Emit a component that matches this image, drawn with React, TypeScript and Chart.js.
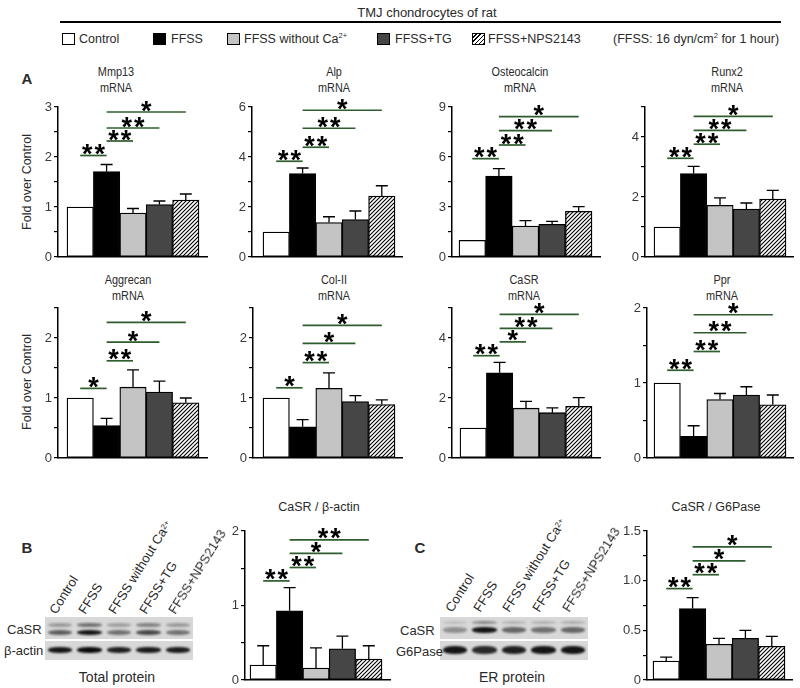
import React, { useEffect, useRef } from 'react';
import { Chart, registerables } from 'chart.js';
Chart.register(...registerables);

const FONT = '"Liberation Sans", Arial, Helvetica, sans-serif';

// ---------- data ----------
const groups = ['Control', 'FFSS', 'FFSS without Ca2+', 'FFSS+TG', 'FFSS+NPS2143'];
const barColors = ['#ffffff', '#000000', '#c4c4c4', '#464646', 'hatch'];

type Sig = [number, number, number, string];

const mmp13Mean = [1.0, 1.71, 0.88, 1.05, 1.14];
const mmp13Sem = [0, 0.14, 0.09, 0.07, 0.12];
const mmp13Sig: Sig[] = [[0, 1, 2.03, '**'], [1, 2, 2.32, '**'], [1, 3, 2.58, '**'], [1, 4, 2.9, '*']];
const mmp13Ticks = ['0', '1', '2', '3'];

const alpMean = [1.0, 3.34, 1.38, 1.5, 2.44];
const alpSem = [0, 0.22, 0.23, 0.34, 0.41];
const alpSig: Sig[] = [[0, 1, 3.83, '**'], [1, 2, 4.39, '**'], [1, 3, 5.15, '**'], [1, 4, 5.87, '*']];
const alpTicks = ['0', '2', '4', '6'];

const osteoMean = [1.0, 4.86, 1.86, 1.96, 2.74];
const osteoSem = [0, 0.44, 0.32, 0.18, 0.28];
const osteoSig: Sig[] = [[0, 1, 5.9, '**'], [1, 2, 6.72, '**'], [1, 3, 7.58, '**'], [1, 4, 8.42, '*']];
const osteoTicks = ['0', '3', '6', '9'];

const runx2Mean = [1.0, 2.78, 1.72, 1.6, 1.93];
const runx2Sem = [0, 0.24, 0.25, 0.2, 0.29];
const runx2Sig: Sig[] = [[0, 1, 3.29, '**'], [1, 2, 3.76, '**'], [1, 3, 4.22, '**'], [1, 4, 4.69, '*']];
const runx2Ticks = ['0', '2', '4'];

const aggMean = [1.0, 0.54, 1.18, 1.1, 0.92];
const aggSem = [0, 0.12, 0.29, 0.18, 0.08];
const aggSig: Sig[] = [[0, 1, 1.16, '*'], [1, 2, 1.62, '**'], [1, 3, 1.93, '*'], [1, 4, 2.26, '*']];
const aggTicks = ['0', '1', '2'];

const col2Mean = [1.0, 0.52, 1.16, 0.94, 0.89];
const col2Sem = [0, 0.12, 0.26, 0.1, 0.08];
const col2Sig: Sig[] = [[0, 1, 1.17, '*'], [1, 2, 1.59, '**'], [1, 3, 1.91, '*'], [1, 4, 2.21, '*']];
const col2Ticks = ['0', '1', '2'];

const casrMean = [1.0, 2.84, 1.66, 1.51, 1.72];
const casrSem = [0, 0.35, 0.23, 0.16, 0.29];
const casrSig: Sig[] = [[0, 1, 3.41, '**'], [1, 2, 3.87, '*'], [1, 3, 4.32, '**'], [1, 4, 4.79, '*']];
const casrTicks = ['0', '2', '4'];

const pprMean = [1.0, 0.29, 0.78, 0.84, 0.71];
const pprSem = [0, 0.14, 0.08, 0.11, 0.13];
const pprSig: Sig[] = [[0, 1, 1.17, '**'], [1, 2, 1.42, '**'], [1, 3, 1.67, '**'], [1, 4, 1.91, '*']];
const pprTicks = ['0', '1', '2'];

const actinMean = [0.2, 0.93, 0.16, 0.42, 0.28];
const actinSem = [0.26, 0.31, 0.27, 0.17, 0.18];
const actinSig: Sig[] = [[0, 1, 1.33, '**'], [1, 2, 1.51, '**'], [1, 3, 1.7, '*'], [1, 4, 1.88, '**']];
const actinTicks = ['0', '1', '2'];

const g6pMean = [0.19, 0.72, 0.36, 0.42, 0.34];
const g6pSem = [0.04, 0.11, 0.06, 0.08, 0.1];
const g6pSig: Sig[] = [[0, 1, 0.92, '**'], [1, 2, 1.06, '**'], [1, 3, 1.2, '*'], [1, 4, 1.34, '*']];
const g6pTicks = ['0', '0.5', '1.0', '1.5'];

// ---------- layout ----------
type Geom = { axisX: number; barsL: number; barsR: number; right: number; top: number; bottom: number };
type Panel = {
  mean: number[]; sem: number[]; sig: Sig[]; ticks: string[];
  max: number; major: number; minor: number; geom: Geom;
};

const R1 = { top: 107, bottom: 257 };
const R2 = { top: 308, bottom: 458 };
const R3 = { top: 531, bottom: 680 };

const panels: Panel[] = [
  { mean: mmp13Mean, sem: mmp13Sem, sig: mmp13Sig, ticks: mmp13Ticks, max: 3, major: 1, minor: 0.5, geom: { axisX: 58, barsL: 67, barsR: 199, right: 207, ...R1 } },
  { mean: alpMean, sem: alpSem, sig: alpSig, ticks: alpTicks, max: 6, major: 2, minor: 1, geom: { axisX: 252, barsL: 263, barsR: 395, right: 402, ...R1 } },
  { mean: osteoMean, sem: osteoSem, sig: osteoSig, ticks: osteoTicks, max: 9, major: 3, minor: 1.5, geom: { axisX: 452, barsL: 459, barsR: 592, right: 600, ...R1 } },
  { mean: runx2Mean, sem: runx2Sem, sig: runx2Sig, ticks: runx2Ticks, max: 5, major: 2, minor: 1, geom: { axisX: 645, barsL: 654, barsR: 786, right: 793, ...R1 } },
  { mean: aggMean, sem: aggSem, sig: aggSig, ticks: aggTicks, max: 2.5, major: 1, minor: 0.5, geom: { axisX: 58, barsL: 67, barsR: 199, right: 207, ...R2 } },
  { mean: col2Mean, sem: col2Sem, sig: col2Sig, ticks: col2Ticks, max: 2.5, major: 1, minor: 0.5, geom: { axisX: 253, barsL: 263, barsR: 395, right: 402, ...R2 } },
  { mean: casrMean, sem: casrSem, sig: casrSig, ticks: casrTicks, max: 5, major: 2, minor: 1, geom: { axisX: 452, barsL: 460, barsR: 592, right: 600, ...R2 } },
  { mean: pprMean, sem: pprSem, sig: pprSig, ticks: pprTicks, max: 2, major: 1, minor: 0.5, geom: { axisX: 647, barsL: 654, barsR: 786, right: 793, ...R2 } },
  { mean: actinMean, sem: actinSem, sig: actinSig, ticks: actinTicks, max: 2, major: 1, minor: 0.5, geom: { axisX: 245, barsL: 250, barsR: 382, right: 390, ...R3 } },
  { mean: g6pMean, sem: g6pSem, sig: g6pSig, ticks: g6pTicks, max: 1.5, major: 0.5, minor: 0.25, geom: { axisX: 647, barsL: 653, barsR: 785, right: 792, ...R3 } },
];

function makeHatch(): CanvasPattern | string {
  const c = document.createElement('canvas');
  const s = 4;
  c.width = s; c.height = s;
  const g = c.getContext('2d');
  if (!g) return '#888';
  g.fillStyle = '#fff';
  g.fillRect(0, 0, s, s);
  g.strokeStyle = '#000';
  g.lineWidth = 1.1;
  g.beginPath();
  g.moveTo(0, s); g.lineTo(s, 0);
  g.moveTo(-1, 1); g.lineTo(1, -1);
  g.moveTo(s - 1, s + 1); g.lineTo(s + 1, s - 1);
  g.stroke();
  return g.createPattern(c, 'repeat') || '#888';
}

const PAD_TOP = 24, PAD_BOTTOM = 10, PAD_RIGHT = 4, Y_W = 30;

function BarPanel({ p }: { p: Panel }) {
  const ref = useRef<HTMLCanvasElement>(null);
  const g = p.geom;
  const left = g.axisX - Y_W;
  const top = g.top - PAD_TOP;
  const width = g.right + PAD_RIGHT - left;
  const height = g.bottom + PAD_BOTTOM - top;

  useEffect(() => {
    if (!ref.current) return;
    const unit = (g.barsR - g.barsL) / 5;
    const xMin = -0.5 - (g.barsL - g.axisX) / unit;
    const xMax = 4.5 + (g.right - g.barsR) / unit;
    const hatch = makeHatch();
    const label = (v: number) => {
      const k = Math.round(v / p.major);
      return Math.abs(v - k * p.major) < 1e-6 ? (p.ticks[k] ?? '') : '';
    };
    const overlay = {
      id: 'errSig',
      afterDatasetsDraw(chart: any) {
        const ctx = chart.ctx;
        const ys = chart.scales.y;
        const xs = chart.scales.x;
        ctx.save();
        ctx.strokeStyle = '#000';
        ctx.lineWidth = 1.3;
        p.mean.forEach((m, i) => {
          const s = p.sem[i];
          if (!s) return;
          const x = xs.getPixelForValue(i);
          const y0 = ys.getPixelForValue(m);
          const y1 = ys.getPixelForValue(m + s);
          ctx.beginPath();
          ctx.moveTo(x, y0); ctx.lineTo(x, y1);
          ctx.moveTo(x - 6, y1); ctx.lineTo(x + 6, y1);
          ctx.stroke();
        });
        p.sig.forEach(([a, b, v, lab]) => {
          const x0 = xs.getPixelForValue(a);
          const x1 = xs.getPixelForValue(b);
          const y = ys.getPixelForValue(v);
          ctx.strokeStyle = '#2e5c2e';
          ctx.lineWidth = 1.7;
          ctx.beginPath();
          ctx.moveTo(x0, y); ctx.lineTo(x1, y);
          ctx.stroke();
          ctx.fillStyle = '#000';
          ctx.font = `bold 27px ${FONT}`;
          ctx.textAlign = 'center';
          ctx.textBaseline = 'alphabetic';
          const cx = (x0 + x1) / 2;
          const n = lab.length;
          for (let k = 0; k < n; k++) {
            ctx.fillText('*', cx + (k - (n - 1) / 2) * 12.5, y + 7.5);
          }
        });
        ctx.restore();
      },
    };
    const chart = new Chart(ref.current, {
      type: 'bar',
      data: {
        labels: groups,
        datasets: [{
          data: p.mean.map((y, i) => ({ x: i, y })),
          backgroundColor: barColors.map((c) => (c === 'hatch' ? hatch : c)) as any,
          borderColor: '#000',
          borderWidth: 1.3,
          borderSkipped: false,
          barPercentage: 1,
          categoryPercentage: 1,
        }],
      },
      options: {
        responsive: false,
        animation: false,
        events: [],
        layout: { padding: { top: PAD_TOP, right: PAD_RIGHT, bottom: PAD_BOTTOM, left: 0 } },
        plugins: { legend: { display: false }, tooltip: { enabled: false }, title: { display: false } },
        scales: {
          x: {
            type: 'linear',
            min: xMin,
            max: xMax,
            offset: false,
            ticks: { display: false },
            grid: { display: false, offset: false },
            border: { display: true, color: '#000', width: 1.5 },
            afterFit: (s: any) => { s.height = 0; },
          },
          y: {
            min: 0,
            max: p.max,
            ticks: {
              stepSize: p.minor,
              autoSkip: false,
              padding: 2,
              color: '#3a3a3a',
              font: { family: FONT, size: 13 },
              callback: (v: any) => label(Number(v)),
            },
            grid: { display: true, drawOnChartArea: false, drawTicks: true, tickLength: 4, color: '#000', lineWidth: 1.2 },
            border: { display: true, color: '#000', width: 1.5 },
            afterFit: (s: any) => { s.width = Y_W; },
          },
        },
      } as any,
      plugins: [overlay],
    });
    return () => chart.destroy();
  }, []);

  return (
    <canvas
      ref={ref}
      width={width}
      height={height}
      style={{ position: 'absolute', left, top, width, height }}
    />
  );
}

// ---------- text helpers ----------
const Centered = ({ x, y, size, children, bold, sx }: any) => (
  <div
    style={{
      position: 'absolute', left: x, top: y, whiteSpace: 'nowrap', lineHeight: 1,
      fontSize: size, fontWeight: bold ? 'bold' : 'normal',
      transform: `translate(-50%, -50%)${sx ? ` scaleX(${sx})` : ''}`,
    }}
  >
    {children}
  </div>
);

const Sup = ({ children }: any) => (
  <sup style={{ fontSize: '0.6em', verticalAlign: 'top', position: 'relative', top: '-0.15em' }}>{children}</sup>
);

const chartTitles: [string, number, number][] = [
  ['Mmp13', 116, 72], ['Alp', 334, 72], ['Osteocalcin', 520, 72], ['Runx2', 727, 72],
  ['Aggrecan', 128, 280], ['Col-II', 334, 280], ['CaSR', 524, 280], ['Ppr', 722, 280],
];

const LegendBox = ({ x, fill }: { x: number; fill: string }) => (
  <div
    style={{
      position: 'absolute', left: x, top: 33, width: 11, height: 10,
      border: '1.6px solid #000', background: fill,
    }}
  />
);

const HATCH_CSS = 'repeating-linear-gradient(-45deg, #000 0 1px, #fff 1px 3px)';

const LegendText = ({ x, children }: any) => (
  <div style={{ position: 'absolute', left: x, top: 39, transform: 'translateY(-50%)', fontSize: 12.5, lineHeight: 1, whiteSpace: 'nowrap' }}>
    {children}
  </div>
);

// western blot decoration
const laneLabels = ['Control', 'FFSS', 'FFSS without Ca', 'FFSS+TG', 'FFSS+NPS2143'];

function Blot({ x, bands }: { x: number; bands: { y: number; h: number; a: number[] }[] }) {
  const laneW = 148 / 5;
  return (
    <>
      <div style={{ position: 'absolute', left: x, top: 617, width: 148, height: 22, background: '#d8d8d8', filter: 'blur(0.6px)' }} />
      <div style={{ position: 'absolute', left: x, top: 641, width: 148, height: 19, background: '#d8d8d8', filter: 'blur(0.6px)' }} />
      {bands.map((b, bi) =>
        b.a.map((a, i) => (
          <div
            key={`${bi}-${i}`}
            style={{
              position: 'absolute', left: x + i * laneW + 2.5, top: b.y - b.h / 2, width: laneW - 5, height: b.h,
              background: `rgba(10,10,10,${a})`, borderRadius: '45%', filter: 'blur(1.3px)',
            }}
          />
        ))
      )}
    </>
  );
}

function LaneLabels({ xs, y }: { xs: number[]; y: number }) {
  return (
    <>
      {laneLabels.map((t, i) => (
        <div
          key={i}
          style={{
            position: 'absolute', left: xs[i], top: y - 13, fontSize: 13, lineHeight: '13px', whiteSpace: 'nowrap',
            transformOrigin: 'left bottom', transform: 'rotate(-58deg)',
          }}
        >
          {t}
          {i === 2 ? <Sup>2+</Sup> : null}
        </div>
      ))}
    </>
  );
}

export default function App() {
  return (
    <div
      style={{
        position: 'absolute', left: 0, top: 0, width: 800, height: 688, background: '#fff',
        fontFamily: FONT, color: '#2a2a2a', overflow: 'hidden',
      }}
    >
      {/* header */}
      <Centered x={427} y={12} size={13}>TMJ chondrocytes of rat</Centered>
      <div style={{ position: 'absolute', left: 60, top: 21, width: 721, height: 2, background: '#000' }} />

      <LegendBox x={62} fill="#fff" />
      <LegendText x={79}>Control</LegendText>
      <LegendBox x={153} fill="#000" />
      <LegendText x={171}>FFSS</LegendText>
      <LegendBox x={227} fill="#c4c4c4" />
      <LegendText x={244}>FFSS without Ca<Sup>2+</Sup></LegendText>
      <LegendBox x={377} fill="#464646" />
      <LegendText x={395}>FFSS+TG</LegendText>
      <LegendBox x={472} fill={HATCH_CSS} />
      <LegendText x={488}>FFSS+NPS2143</LegendText>
      <LegendText x={613}>(FFSS: 16 dyn/cm<Sup>2</Sup> for 1 hour)</LegendText>

      {/* panel letters */}
      <Centered x={27} y={78} size={15} bold>A</Centered>
      <Centered x={27} y={547} size={15} bold>B</Centered>
      <Centered x={420} y={547} size={15} bold>C</Centered>

      {/* chart titles */}
      {chartTitles.map(([t, x, y]) => (
        <React.Fragment key={t}>
          <Centered x={x} y={y} size={12.5} sx={0.87}>{t}</Centered>
          <Centered x={x} y={y + 16} size={12.5} sx={0.87}>mRNA</Centered>
        </React.Fragment>
      ))}
      <Centered x={319} y={507} size={12.5}>CaSR / β-actin</Centered>
      <Centered x={716} y={507} size={12.5}>CaSR / G6Pase</Centered>

      {/* y axis titles */}
      <div style={{ position: 'absolute', left: 27, top: 182, fontSize: 12.5, lineHeight: 1, whiteSpace: 'nowrap', transform: 'translate(-50%, -50%) rotate(-90deg)' }}>Fold over Control</div>
      <div style={{ position: 'absolute', left: 27, top: 382, fontSize: 12.5, lineHeight: 1, whiteSpace: 'nowrap', transform: 'translate(-50%, -50%) rotate(-90deg)' }}>Fold over Control</div>

      {/* charts */}
      {panels.map((p, i) => <BarPanel key={i} p={p} />)}

      {/* blot B */}
      <Blot
        x={45}
        bands={[
          { y: 625, h: 4, a: [0.3, 0.5, 0.28, 0.42, 0.3] },
          { y: 632, h: 5, a: [0.6, 0.95, 0.5, 0.7, 0.5] },
          { y: 650, h: 6, a: [0.95, 1, 0.9, 0.92, 0.92] },
        ]}
      />
      <LaneLabels xs={[58, 87, 117, 148, 177]} y={616} />
      <div style={{ position: 'absolute', left: 7, top: 629, transform: 'translateY(-50%)', fontSize: 13, lineHeight: 1 }}>CaSR</div>
      <div style={{ position: 'absolute', left: 4, top: 650, transform: 'translateY(-50%)', fontSize: 13, lineHeight: 1 }}>β-actin</div>
      <Centered x={117} y={677} size={14}>Total protein</Centered>

      {/* blot C */}
      <Blot
        x={440}
        bands={[
          { y: 622, h: 3, a: [0.12, 0.4, 0.18, 0.2, 0.22] },
          { y: 630, h: 6, a: [0.35, 0.95, 0.55, 0.5, 0.55] },
          { y: 650, h: 8, a: [0.95, 0.85, 0.9, 0.95, 0.95] },
        ]}
      />
      <LaneLabels xs={[454, 482, 511, 541, 571]} y={614} />
      <div style={{ position: 'absolute', left: 400, top: 630, transform: 'translateY(-50%)', fontSize: 13, lineHeight: 1 }}>CaSR</div>
      <div style={{ position: 'absolute', left: 396, top: 651, transform: 'translateY(-50%)', fontSize: 13, lineHeight: 1 }}>G6Pase</div>
      <Centered x={512} y={677} size={14}>ER protein</Centered>
    </div>
  );
}
